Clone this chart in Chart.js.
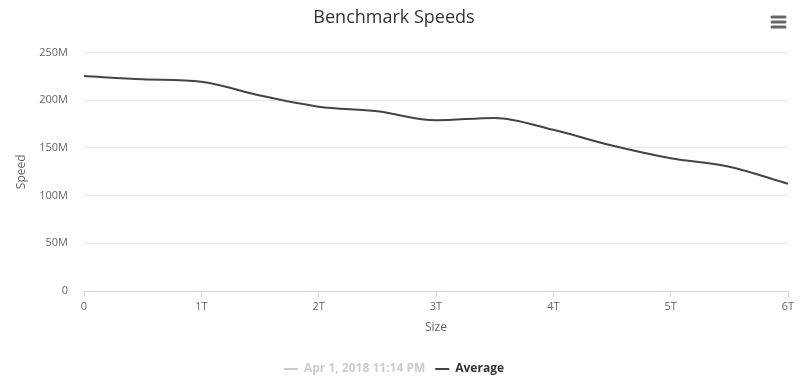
<!DOCTYPE html>
<html>
<head>
<meta charset="utf-8">
<script src="https://cdn.jsdelivr.net/npm/chart.js@4/dist/chart.umd.min.js"></script>
<style>
  html, body { margin: 0; padding: 0; background: #fff; }
  #wrap { width: 806px; height: 385px; }
</style>
</head>
<body>
<div id="wrap"><canvas id="chart" width="806" height="385"></canvas></div>
<script>
// sizes in T (multiplied to bytes below), speeds in M
const sizesT = [0, 0.5, 1, 1.5, 2, 2.5, 3, 3.5, 4, 4.5, 5, 5.5, 6];
const averageM = [225.5, 222, 219.5, 205, 193.3, 188.5, 179, 181.5, 169, 152.5, 139.2, 130.3, 112.4];
const seriesNames = ['Apr 1, 2018 11:14 PM', 'Average'];
const seriesColors = ['#cccccc', '#434348'];

const FONT = "'Open Sans', 'Liberation Sans', Arial, sans-serif";
const T = 1e12;
const M = 1e6;

const averagePoints = sizesT.map((s, i) => ({ x: s * T, y: averageM[i] * M }));

// hamburger menu icon, top right
const menuIcon = {
  id: 'menuIcon',
  afterDraw(chart) {
    const ctx = chart.ctx;
    ctx.save();
    ctx.strokeStyle = '#666666';
    ctx.lineWidth = 3;
    ctx.lineCap = 'round';
    [17, 22, 27].forEach(y => {
      ctx.beginPath();
      ctx.moveTo(772, y);
      ctx.lineTo(785, y);
      ctx.stroke();
    });
    ctx.restore();
  }
};

new Chart(document.getElementById('chart'), {
  type: 'line',
  data: {
    datasets: [
      {
        label: seriesNames[0],
        data: [],
        borderColor: seriesColors[0],
        borderWidth: 2,
        hidden: true,
      },
      {
        label: seriesNames[1],
        data: averagePoints,
        borderColor: seriesColors[1],
        borderWidth: 2,
        pointRadius: 0,
        cubicInterpolationMode: 'monotone',
        fill: false,
      },
    ],
  },
  options: {
    responsive: false,
    animation: false,
    layout: { padding: { left: 0, right: 18, top: 0, bottom: 0 } },
    plugins: {
      title: {
        display: true,
        text: 'Benchmark Speeds',
        color: '#333333',
        font: { family: FONT, size: 18, weight: 'normal' },
        padding: { top: 7, bottom: 24 },
      },
      legend: {
        position: 'bottom',
        labels: {
          usePointStyle: true,
          pointStyleWidth: 14,
          padding: 10,
          font: { family: FONT, size: 12, weight: 'bold' },
          generateLabels(chart) {
            return chart.data.datasets.map((ds, i) => ({
              text: ds.label,
              datasetIndex: i,
              hidden: false,
              pointStyle: 'line',
              strokeStyle: ds.hidden ? '#cccccc' : ds.borderColor,
              fillStyle: ds.hidden ? '#cccccc' : ds.borderColor,
              lineWidth: 2,
              fontColor: ds.hidden ? '#cccccc' : '#333333',
            }));
          },
        },
      },
      tooltip: { enabled: false },
    },
    scales: {
      x: {
        type: 'linear',
        min: 0,
        max: 6 * T,
        afterFit(scale) { scale.height = 62; },
        ticks: {
          stepSize: T,
          color: '#666666',
          padding: 3,
          maxRotation: 0,
          font: { family: FONT, size: 11 },
          callback: v => (v === 0 ? '0' : (v / T) + 'T'),
        },
        grid: {
          drawOnChartArea: false,
          drawTicks: true,
          tickLength: 6,
          color: '#ccd6eb',
        },
        border: { color: '#ccd6eb', width: 1 },
        title: {
          display: true,
          text: 'Size',
          color: '#666666',
          font: { family: FONT, size: 12 },
          padding: { top: 0, bottom: 18 },
        },
      },
      y: {
        min: 0,
        max: 250 * M,
        afterFit(scale) { scale.width = 84; },
        ticks: {
          stepSize: 50 * M,
          color: '#666666',
          padding: 16,
          font: { family: FONT, size: 11 },
          callback: v => (v === 0 ? '0' : (v / M) + 'M'),
        },
        grid: { color: '#e6e6e6', drawTicks: false },
        border: { display: false },
        title: {
          display: true,
          text: 'Speed',
          color: '#666666',
          font: { family: FONT, size: 12 },
          padding: { top: 14, bottom: 0 },
        },
      },
    },
  },
  plugins: [menuIcon],
});
</script>
</body>
</html>
